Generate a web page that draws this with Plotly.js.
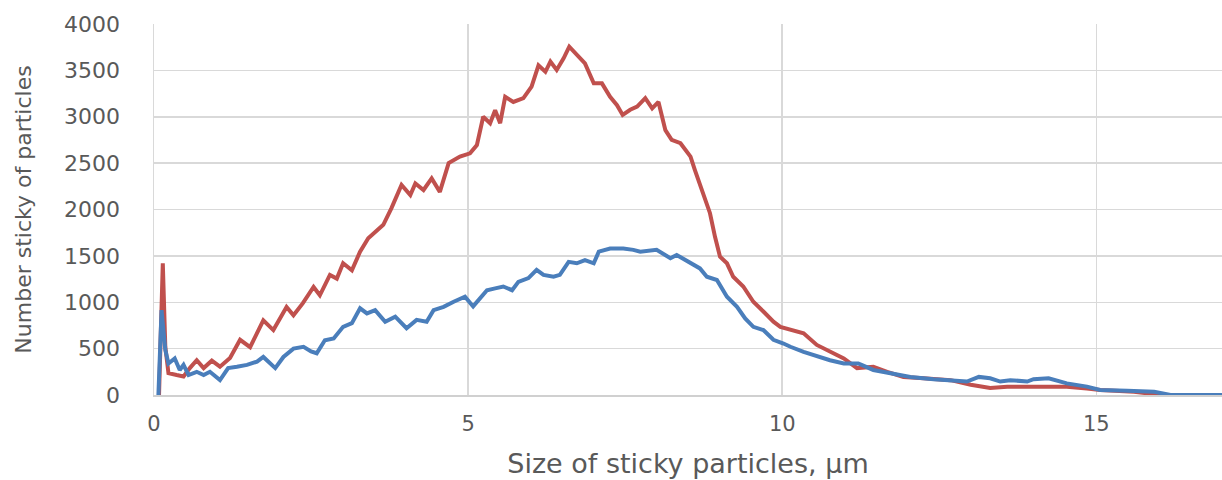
<!DOCTYPE html>
<html>
<head>
<meta charset="utf-8">
<script src="https://cdn.plot.ly/plotly-3.0.1.min.js"></script>
<style>
  html, body { margin: 0; padding: 0; background: #ffffff; }
  #chart { width: 1222px; height: 480px; }
</style>
</head>
<body>
<div id="chart"></div>
<script>
// Series 1 (red)
const redX = [0.08, 0.14, 0.18, 0.23, 0.36, 0.47, 0.57, 0.68, 0.79, 0.92, 1.05, 1.21, 1.37, 1.53, 1.74, 1.90, 2.11, 2.22, 2.37, 2.54, 2.64, 2.80, 2.91, 3.01, 3.15, 3.28, 3.41, 3.55, 3.65, 3.78, 3.94, 4.08, 4.16, 4.29, 4.42, 4.55, 4.69, 4.87, 5.03, 5.14, 5.24, 5.35, 5.43, 5.51, 5.59, 5.72, 5.88, 6.01, 6.12, 6.23, 6.31, 6.41, 6.52, 6.61, 6.73, 6.86, 7.00, 7.13, 7.26, 7.37, 7.46, 7.58, 7.69, 7.82, 7.93, 8.03, 8.14, 8.24, 8.38, 8.54, 8.61, 8.72, 8.85, 8.93, 9.01, 9.12, 9.22, 9.38, 9.54, 9.70, 9.86, 9.97, 10.13, 10.34, 10.55, 10.76, 10.98, 11.19, 11.45, 11.67, 11.93, 12.25, 12.68, 13.00, 13.31, 13.58, 14.00, 14.53, 14.85, 15.06, 15.60, 16.03, 17.00];
const redY = [0, 1420, 520, 235, 215, 200, 290, 375, 290, 370, 305, 400, 595, 515, 805, 700, 950, 860, 990, 1165, 1075, 1295, 1255, 1420, 1345, 1545, 1690, 1780, 1835, 2015, 2265, 2155, 2280, 2210, 2335, 2190, 2500, 2570, 2605, 2695, 3000, 2930, 3070, 2930, 3215, 3160, 3200, 3325, 3555, 3485, 3595, 3505, 3630, 3755, 3665, 3575, 3360, 3360, 3215, 3125, 3020, 3075, 3110, 3200, 3090, 3160, 2855, 2750, 2715, 2570, 2425, 2210, 1960, 1705, 1490, 1420, 1275, 1170, 1005, 900, 790, 735, 700, 665, 540, 465, 395, 290, 305, 250, 195, 180, 160, 110, 75, 90, 90, 90, 70, 55, 35, 0, 0];

// Series 2 (blue)
const blueX = [0.05, 0.07, 0.12, 0.18, 0.23, 0.33, 0.41, 0.47, 0.55, 0.68, 0.79, 0.89, 1.05, 1.18, 1.32, 1.48, 1.64, 1.74, 1.93, 2.06, 2.22, 2.38, 2.50, 2.59, 2.72, 2.86, 3.01, 3.15, 3.28, 3.39, 3.52, 3.68, 3.84, 4.02, 4.18, 4.34, 4.45, 4.61, 4.77, 4.95, 5.08, 5.19, 5.30, 5.43, 5.56, 5.70, 5.80, 5.96, 6.09, 6.20, 6.36, 6.46, 6.60, 6.73, 6.86, 7.00, 7.08, 7.26, 7.47, 7.63, 7.74, 8.00, 8.22, 8.32, 8.54, 8.69, 8.80, 8.96, 9.12, 9.28, 9.41, 9.54, 9.70, 9.86, 10.02, 10.13, 10.34, 10.55, 10.76, 10.98, 11.21, 11.45, 11.72, 12.04, 12.41, 12.78, 12.94, 13.13, 13.31, 13.47, 13.63, 13.90, 14.00, 14.24, 14.53, 14.85, 15.06, 15.49, 15.92, 16.18, 17.00];
const blueY = [0, 0, 915, 485, 340, 395, 270, 325, 215, 250, 215, 250, 160, 290, 305, 325, 360, 410, 290, 410, 500, 520, 470, 450, 590, 610, 735, 775, 935, 880, 915, 790, 845, 720, 810, 790, 915, 950, 1005, 1060, 955, 1045, 1130, 1150, 1170, 1130, 1220, 1260, 1350, 1295, 1275, 1295, 1435, 1420, 1455, 1420, 1545, 1580, 1580, 1565, 1545, 1565, 1475, 1510, 1420, 1365, 1275, 1240, 1060, 950, 825, 735, 700, 595, 555, 520, 465, 415, 375, 340, 340, 270, 235, 195, 170, 160, 145, 195, 180, 145, 160, 145, 170, 180, 125, 90, 55, 45, 35, 0, 0];

const xTickVals = [0, 5, 10, 15];
const xTickText = ['0', '5', '10', '15'];
const yTickVals = [0, 500, 1000, 1500, 2000, 2500, 3000, 3500, 4000];
const yTickText = ['0', '500', '1000', '1500', '2000', '2500', '3000', '3500', '4000'];
const xTitle = 'Size of sticky particles, µm';
const yTitle = 'Number sticky of particles';

const traces = [
  { x: redX, y: redY, type: 'scatter', mode: 'lines', name: 'Series 1',
    line: { color: '#c0504d', width: 4 }, hoverinfo: 'skip' },
  { x: blueX, y: blueY, type: 'scatter', mode: 'lines', name: 'Series 2',
    line: { color: '#4a7ebb', width: 4 }, hoverinfo: 'skip' }
];

const layout = {
  width: 1222, height: 480,
  margin: { l: 154, r: 0, t: 24, b: 85 },
  paper_bgcolor: '#ffffff', plot_bgcolor: '#ffffff',
  showlegend: false,
  font: { family: 'DejaVu Sans, sans-serif', color: '#595959' },
  xaxis: {
    range: [0, 17], tickvals: xTickVals, ticktext: xTickText,
    showgrid: true, gridcolor: '#d9d9d9', gridwidth: 1.5,
    zeroline: false, showline: true, linecolor: '#d0d0d0', linewidth: 1.5,
    ticks: '', ticklabelstandoff: 9,
    tickfont: { family: 'DejaVu Sans, sans-serif', size: 21, color: '#595959' },
    title: { text: xTitle, standoff: 19, font: { family: 'DejaVu Sans, sans-serif', size: 27, color: '#595959' } },
    fixedrange: true
  },
  yaxis: {
    range: [0, 4000], tickvals: yTickVals, ticktext: yTickText,
    showgrid: true, gridcolor: '#d9d9d9', gridwidth: 1.5,
    zeroline: false, showline: true, linecolor: '#d9d9d9', linewidth: 1.5,
    ticks: '', ticklabelstandoff: 28,
    tickfont: { family: 'DejaVu Sans, sans-serif', size: 22, color: '#595959' },
    title: { text: yTitle, standoff: 26, font: { family: 'DejaVu Sans, sans-serif', size: 22, color: '#595959' } },
    fixedrange: true
  }
};

Plotly.newPlot('chart', traces, layout, { displayModeBar: false, staticPlot: true });
</script>
</body>
</html>
